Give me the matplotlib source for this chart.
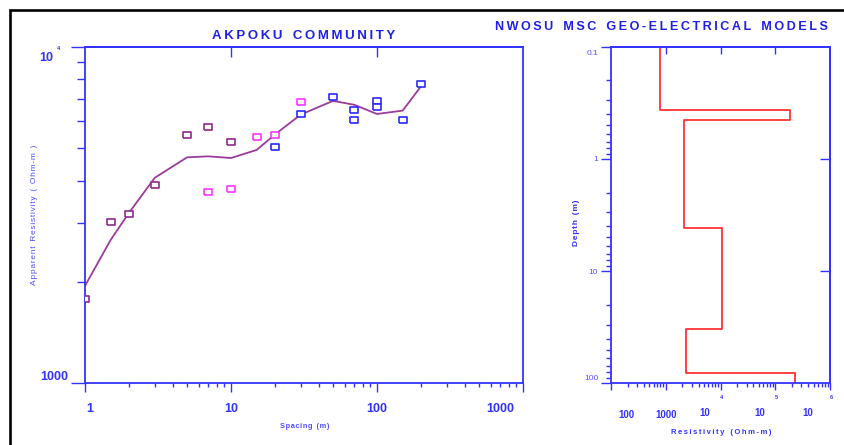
import matplotlib
matplotlib.use('Agg')
import matplotlib.pyplot as plt
from matplotlib.patches import Rectangle
from matplotlib.transforms import ScaledTranslation
from matplotlib.ticker import NullLocator, NullFormatter

# Curva de sondagem: AB/2 (m) x resistividade aparente (Ohm-m)
calc_spacing = [1, 1.5, 2, 3, 5, 7, 10, 15, 20, 30, 50, 70, 100, 150, 200]
calc_rho = [1945, 2666, 3206, 4074, 4689, 4721, 4667, 4934, 5483, 6281, 6902, 6718, 6310, 6457, 7620]

seg1_spacing = [1, 1.5, 2, 3, 5, 7, 10]
seg1_rho = [1778, 3013, 3184, 3880, 5470, 5754, 5200]
seg2_spacing = [7, 10, 15, 20, 30]
seg2_rho = [3707, 3777, 5385, 5457, 6838]
seg3_spacing = [20, 30, 50, 70, 70, 100, 100, 150, 200]
seg3_rho = [5020, 6310, 7100, 6505, 6053, 6873, 6620, 6070, 7762]

# Modelo de camadas
layer_rho = [785, 186000, 2150, 10500, 2300, 230000]
layer_bottom = [0.366, 0.45, 4.13, 32.8, 81.8]

BLUE = '#3333ff'
LIGHT_BLUE = '#5050ff'
TITLE_BLUE = '#2020e8'
plt.rcParams['font.family'] = ['Liberation Sans', 'DejaVu Sans']

THIN = '\u2009'
HAIR = '\u200a'


def spaced(s, word=THIN * 4, gap=THIN):
    # letras separadas por um espaço estreito, palavras por um espaço maior
    words = s.split(' ')
    return word.join(gap.join(w) for w in words)


def shift(lbl, dx, dy):
    # desloca um rótulo em pixels (dpi=100)
    lbl.set_transform(lbl.get_transform() + ScaledTranslation(dx / 100, dy / 100, fig.dpi_scale_trans))


def fit(t, size_px, vertical=False):
    # ajusta o tamanho da fonte para o comprimento medido na figura original
    r = fig.canvas.get_renderer()
    for _ in range(3):
        bb = t.get_window_extent(r)
        cur = bb.height if vertical else bb.width
        t.set_fontsize(t.get_fontsize() * size_px / cur)


fig = plt.figure(figsize=(8.45, 4.45), dpi=100)
ax = fig.add_axes([0.1006, 0.1393, 0.5183, 0.7557])
ax2 = fig.add_axes([0.7231, 0.1387, 0.2592, 0.7563])

fig.patches.append(Rectangle((10 / 845, -0.5), 2, (445 - 9.7) / 445 + 0.5, transform=fig.transFigure,
                             fill=False, ec='black', lw=1.9))

# ---- painel esquerdo ----
ax.plot(calc_spacing, calc_rho, color='#9b3b9b', lw=1.3, zorder=2)
rect = [(-1.4, -1), (1.4, -1), (1.4, 1), (-1.4, 1), (-1.4, -1)]
for xs, ys, c in [(seg1_spacing, seg1_rho, '#8e2a8e'),
                  (seg2_spacing, seg2_rho, '#ff33ff'),
                  (seg3_spacing, seg3_rho, '#2a2aff')]:
    ax.plot(xs, ys, ls='none', marker=rect, ms=5.3, mfc='white', mec=c, mew=1.2, zorder=3)

ax.set_xscale('log')
ax.set_yscale('log')
ax.set_xlim(1, 1000)
ax.set_ylim(1000, 10000)

for a in (ax, ax2):
    for sp in a.spines.values():
        sp.set_color(BLUE)
        sp.set_linewidth(1.3)
    a.tick_params(which='both', colors=BLUE, direction='out', width=1.0, top=False, right=False)

ax.set_xticks([1, 10, 100, 1000], labels=['1', '10', '100', '1000'])
ax.xaxis.set_minor_formatter(NullFormatter())
ax.set_yticks([1000, 10000], labels=['1000', '10'])
ax.yaxis.set_minor_formatter(NullFormatter())
ax.tick_params(axis='y', which='major', length=10, pad=2, labelsize=9)
ax.tick_params(axis='y', which='minor', length=5.5)
ax.tick_params(axis='x', which='major', length=6.7, pad=8, labelsize=9)
ax.tick_params(axis='x', which='minor', length=3)
for lbl in ax.get_xticklabels() + ax.get_yticklabels():
    lbl.set_fontweight('bold')
xl = ax.get_xticklabels()
shift(xl[0], 5, 0)
shift(xl[3], -23, 0)
yl = ax.get_yticklabels()
shift(yl[0], 0, 7.3)
shift(yl[1], -15, -9.5)
ax.annotate('4', xy=(0, 10000), xycoords=('axes fraction', 'data'), xytext=(-26.5 * 0.72, -2 * 0.72),
            textcoords='offset points', ha='center', va='center', fontsize=4, fontweight='bold', color=BLUE)

top = ax.secondary_xaxis('top')
top.set_ticks([10, 100], labels=['', ''])
top.xaxis.set_minor_locator(NullLocator())
top.tick_params(direction='in', length=7, width=1.0, colors=BLUE)
top.spines['top'].set_color(BLUE)
top.spines['top'].set_linewidth(1.3)

# ---- painel direito ----
depth_edges = [0.1] + layer_bottom + [100]
step_x, step_y = [], []
for i, r in enumerate(layer_rho):
    step_x += [r, r]
    step_y += [depth_edges[i], depth_edges[i + 1]]
ax2.plot(step_x, step_y, color='#ff3333', lw=1.3)

ax2.set_xscale('log')
ax2.set_yscale('log')
ax2.set_xlim(100, 1e6)
ax2.set_ylim(100, 0.1)

ax2.set_yticks([0.1, 1, 10, 100], labels=['0.1', '1', '10', '100'])
ax2.yaxis.set_minor_formatter(NullFormatter())
ax2.tick_params(axis='y', which='major', length=7.2, pad=2, labelsize=6, labelcolor=LIGHT_BLUE)
ax2.tick_params(axis='y', which='minor', length=3.6)
yl2 = ax2.get_yticklabels()
shift(yl2[0], 0, -6)
shift(yl2[3], 0, 5.6)

ax2.set_xticks([1e2, 1e3, 1e4, 1e5, 1e6], labels=['100', '1000', '10', '10', '10'])
ax2.xaxis.set_minor_formatter(NullFormatter())
ax2.tick_params(axis='x', which='major', length=5, pad=14, labelsize=7)
ax2.tick_params(axis='x', which='minor', length=3)
xl2 = ax2.get_xticklabels()
for lbl, dx, dy in zip(xl2, [15, 0, -16, -16, -22], [0, 0, 2, 2, 2]):
    lbl.set_fontweight('bold')
    shift(lbl, dx, dy)
for tick, e in zip([1e4, 1e5, 1e6], ['4', '5', '6']):
    ax2.annotate(e, xy=(tick, 0), xycoords=('data', 'axes fraction'), xytext=(0.72, -14.5 * 0.72),
                 textcoords='offset points', ha='center', va='center', fontsize=4, fontweight='bold',
                 color=BLUE)

top2 = ax2.secondary_xaxis('top')
top2.set_ticks([1e3, 1e4, 1e5], labels=['', '', ''])
top2.xaxis.set_minor_locator(NullLocator())
top2.tick_params(direction='in', length=4.8, width=1.0, colors=BLUE)
top2.spines['top'].set_color(BLUE)
top2.spines['top'].set_linewidth(1.3)

right2 = ax2.secondary_yaxis('right')
right2.set_ticks([1, 10], labels=['', ''])
right2.yaxis.set_minor_locator(NullLocator())
right2.tick_params(direction='in', length=7.2, width=1.0, colors=BLUE)
right2.spines['right'].set_color(BLUE)
right2.spines['right'].set_linewidth(1.3)

# ---- textos ----
t1 = fig.text(303.5 / 845, 1 - 35.7 / 445, spaced('AKPOKU COMMUNITY'), ha='center', va='center',
              fontsize=9.5, fontweight='bold', color=TITLE_BLUE)
fit(t1, 183)
t2 = fig.text(661.5 / 845, 1 - 27.5 / 445, spaced('NWOSU MSC GEO-ELECTRICAL MODELS'), ha='center',
              va='center', fontsize=9, fontweight='bold', color=TITLE_BLUE)
fit(t2, 337)
t3 = fig.text(35 / 845, 1 - 215 / 445, spaced('Apparent Resistivity ( Ohm-m )', '  ', HAIR), rotation=90,
              ha='center', va='center', fontsize=5, color=LIGHT_BLUE)
fit(t3, 140, vertical=True)
t4 = fig.text(304.5 / 845, 1 - 426.7 / 445, spaced('Spacing (m)', '  ', HAIR), ha='center', va='center',
              fontsize=6, fontweight='bold', color=LIGHT_BLUE)
fit(t4, 49)
t5 = fig.text(577 / 845, 1 - 223 / 445, spaced('Depth (m)', '  ', HAIR), rotation=90, ha='center',
              va='center', fontsize=6.5, fontweight='bold', color=BLUE)
fit(t5, 46, vertical=True)
t6 = fig.text(721.5 / 845, 1 - 432.7 / 445, spaced('Resistivity (Ohm-m)'), ha='center', va='center',
              fontsize=7, fontweight='bold', color=BLUE)
fit(t6, 101)

fig.savefig('out.png', dpi=100)
